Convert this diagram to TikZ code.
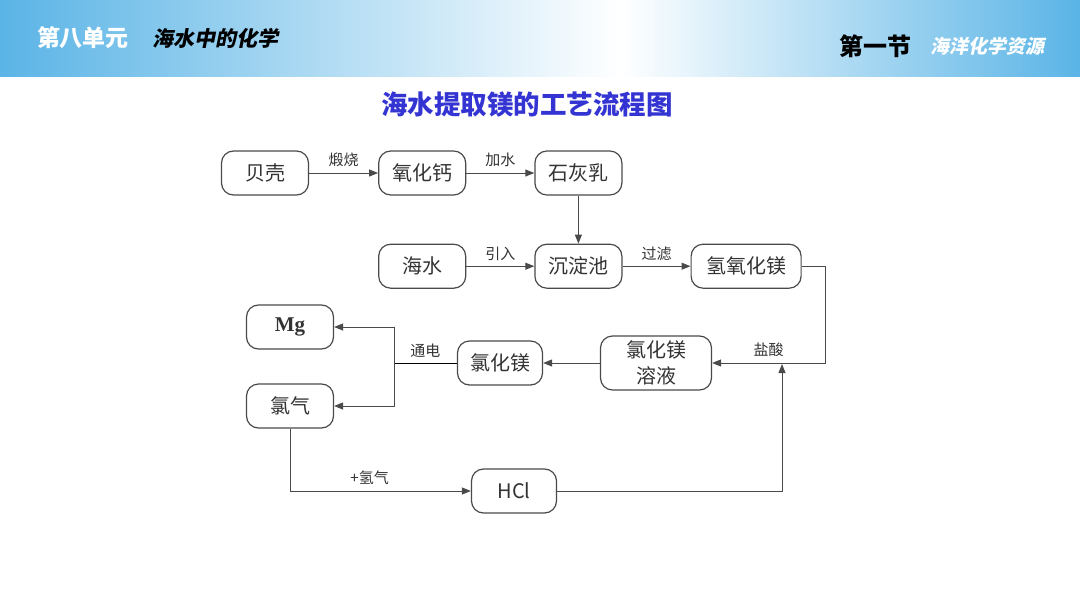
\documentclass[tikz,border=0pt]{standalone}
\usepackage{fontspec}
\setmainfont{Noto Sans CJK SC}
\newfontfamily\cjk{Noto Sans CJK SC}
\newfontfamily\cjkslant[FakeSlant=0.2]{Noto Sans CJK SC}
\newfontfamily\mgfont{Liberation Serif}
\usetikzlibrary{positioning, arrows.meta}
\definecolor{HeadBlue}{HTML}{5AB4E6}
\definecolor{TitleBlue}{HTML}{3434D2}
\definecolor{Line70}{HTML}{4A4A4A}
\definecolor{Text90}{HTML}{333333}

\begin{document}
\begin{tikzpicture}[x=1pt, y=-1pt,
    stepbox/.style={draw=Line70, line width=1.2pt, rounded corners=12pt, minimum width=87pt, minimum height=44pt, align=center, font=\cjk\fontsize{20}{26}\selectfont, text=Text90, inner sep=2pt},
    arr/.style={-{Triangle[length=9pt,width=7pt]}, draw=Line70, line width=1pt},
    lab/.style={font=\cjk\fontsize{15}{18}\selectfont, text=Text90},
    head/.style={font=\cjk\bfseries\fontsize{23}{26}\selectfont}
]
\useasboundingbox (0,0) rectangle (1080,608);

% Header band
\shade[left color=HeadBlue, right color=white] (0,0) rectangle (620,76);
\shade[left color=white, right color=HeadBlue] (620,0) rectangle (1080,76);
\node[head, text=white] (unit) at (83,38) {第八单元};
\node[head, font=\cjkslant\bfseries\fontsize{21}{24}\selectfont, text=black] (unitname) at (215,38) {海水中的化学};
\node[head, font=\cjk\bfseries\fontsize{24}{26}\selectfont, text=black] (sect) at (875,46) {第一节};
\node[head, font=\cjkslant\bfseries\fontsize{19}{22}\selectfont, text=white] (sectname) at (987,46) {海洋化学资源};

% Title
\node[font=\cjk\bfseries\fontsize{26.5}{30}\selectfont, text=TitleBlue] (title) at (527,104) {海水提取镁的工艺流程图};

% Top rows
\node[stepbox] (shell) at (265,173) {贝壳};
\node[stepbox, right=69pt of shell] (cao) {氧化钙};
\node[stepbox, right=68pt of cao] (milk) {石灰乳};
\node[stepbox, below=48pt of milk] (tank) {沉淀池};
\node[stepbox, left=68pt of tank] (sea) {海水};
\node[stepbox, right=68pt of tank, minimum width=110pt] (mgoh) {氢氧化镁};

% Lower rows
\node[stepbox, minimum width=111pt, minimum height=54pt] (sol) at (656,363) {氯化镁\\溶液};
\node[stepbox, minimum width=85pt] (mgcl) at (500,363) {氯化镁};
\node[stepbox] (mg) at (290,327) {\mgfont\bfseries\fontsize{21}{24}\selectfont Mg};
\node[stepbox] (cl) at (290,406) {氯气};
\node[stepbox, minimum width=85pt] (hcl) at (514,491) {HCl};

\coordinate (right) at (825,363);
\coordinate (split) at (394,363);
\coordinate (back) at (782,364);

% Connectors
\draw[arr] (shell) -- node[lab, above=2pt] {煅烧} (cao);
\draw[arr] (cao) -- node[lab, above=2pt] {加水} (milk);
\draw[arr] (milk) -- (tank);
\draw[arr] (sea) -- node[lab, above=2pt] {引入} (tank);
\draw[arr] (tank) -- node[lab, above=2pt] {过滤} (mgoh);
\draw[arr] (mgoh.east) -| (right) -- node[lab, above=2pt] {盐酸} (sol.east);
\draw[arr] (sol) -- (mgcl);
\draw (mgcl.west) -- node[lab, above=2pt] {通电} (split);
\draw[arr] (split) |- (mg.east);
\draw[arr] (split) |- (cl.east);
\draw[arr] (cl.south) |- node[lab, above=2pt, pos=0.72] {+氢气} (hcl.west);
\draw[arr] (hcl.east) -| (back);

\end{tikzpicture}
\end{document}
